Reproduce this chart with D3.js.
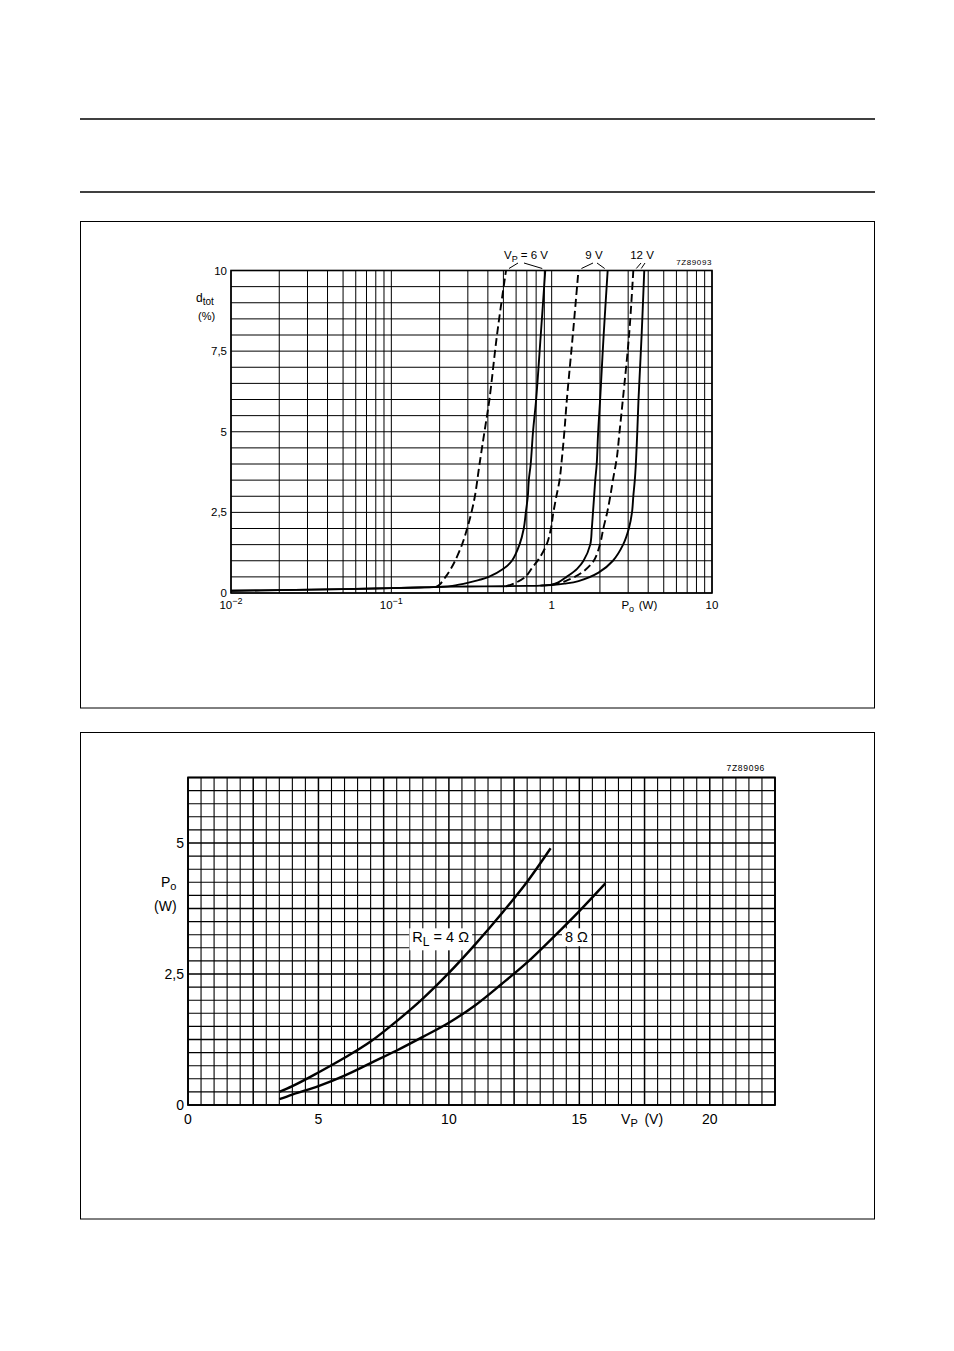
<!DOCTYPE html>
<html><head><meta charset="utf-8">
<script src="https://cdn.jsdelivr.net/npm/d3@7"></script>
<style>
body{margin:0;background:#fff}
svg{display:block}
text{font-family:"Liberation Sans",Arial,Helvetica,sans-serif;fill:#000}
</style>
</head><body>
<svg id="c" width="954" height="1351"></svg>
<script>
// ---------------- DATA ----------------
// Chart 1: total distortion d_tot (%) vs output power Po (W), log x
const distYTicks = [0, 2.5, 5, 7.5, 10];
const distYTickLabels = ["0", "2,5", "5", "7,5", "10"];
const distXTicks = [0.01, 0.1, 1, 10];
const distXTickBase = ["10", "10", "1", "10"];
const distXTickExp = ["\u22122", "\u22121", "", ""];
const vpLabels = ["6 V", "9 V", "12 V"];

// [Po (W), dtot (%)]
const vp6Dashed = [[0.19,0.19],[0.2,0.26],[0.218,0.5],[0.235,0.75],[0.25,1.0],[0.276,1.5],[0.297,2.0],[0.316,2.5],[0.332,3.0],[0.355,4.0],[0.381,5.0],[0.409,6.0],[0.456,8.0],[0.519,10]];
const vp6Solid = [[0.01,0.07],[0.02,0.09],[0.05,0.12],[0.1,0.15],[0.15,0.17],[0.2,0.19],[0.24,0.22],[0.303,0.32],[0.35,0.4],[0.405,0.5],[0.5,0.75],[0.565,1.0],[0.63,1.5],[0.67,2.0],[0.69,2.5],[0.71,3.0],[0.72,3.5],[0.74,4.0],[0.765,5.0],[0.80,6.0],[0.855,8.0],[0.912,10]];
const vp9Dashed = [[0.52,0.21],[0.58,0.29],[0.685,0.5],[0.76,0.8],[0.83,1.05],[0.93,1.5],[0.99,2.0],[1.025,2.5],[1.07,3.0],[1.12,3.5],[1.16,4.2],[1.2,5.0],[1.244,6.0],[1.355,8.0],[1.469,10]];
const vp9Solid = [[0.01,0.07],[0.02,0.09],[0.05,0.12],[0.1,0.15],[0.2,0.19],[0.3,0.2],[0.5,0.21],[0.7,0.22],[0.85,0.23],[1.0,0.26],[1.1,0.33],[1.24,0.5],[1.44,0.75],[1.58,1.0],[1.74,1.5],[1.78,2.0],[1.81,2.5],[1.84,3.0],[1.87,3.5],[1.91,4.0],[1.95,5.0],[2.006,6.0],[2.11,8.0],[2.235,10]];
const vp12Dashed = [[1.0,0.25],[1.22,0.37],[1.54,0.63],[1.83,1.0],[2.0,1.5],[2.1,2.0],[2.22,2.5],[2.32,3.0],[2.41,3.5],[2.55,4.2],[2.65,5.0],[2.78,6.0],[3.04,8.0],[3.23,10]];
const vp12Solid = [[0.85,0.23],[1.0,0.25],[1.2,0.29],[1.47,0.37],[1.96,0.63],[2.41,1.0],[2.79,1.5],[3.03,2.0],[3.17,2.5],[3.23,3.0],[3.3,3.5],[3.35,4.0],[3.42,5.0],[3.48,6.0],[3.64,8.0],[3.78,10]];

// Chart 2: output power Po (W) vs supply voltage Vp (V)
const powXTicks = [0, 5, 10, 15, 20];
const powXTickLabels = ["0", "5", "10", "15", "20"];
const powYTicks = [0, 2.5, 5];
const powYTickLabels = ["0", "2,5", "5"];
// [Vp (V), Po (W)]
const rl4 = [[3.5,0.25],[4,0.36],[5,0.62],[6,0.9],[7,1.21],[8,1.6],[9,2.03],[10,2.52],[11,3.06],[12,3.64],[13,4.26],[13.9,4.9]];
const rl8 = [[3.5,0.11],[4,0.2],[5,0.36],[6,0.56],[7,0.8],[8,1.04],[9,1.3],[10,1.57],[11,1.9],[12,2.3],[13,2.72],[14,3.2],[15,3.7],[16,4.23]];

// ---------------- DRAW ----------------
const svg = d3.select("#c");

// page rules
[119, 192].forEach(y => svg.append("line").attr("x1", 80).attr("x2", 875).attr("y1", y).attr("y2", y)
  .attr("stroke", "#000").attr("stroke-width", 1.6));
// figure boxes
svg.append("rect").attr("x", 80.5).attr("y", 221.5).attr("width", 794).attr("height", 486.5)
  .attr("fill", "none").attr("stroke", "#000").attr("stroke-width", 1);
svg.append("rect").attr("x", 80.5).attr("y", 732.5).attr("width", 794).attr("height", 486.5)
  .attr("fill", "none").attr("stroke", "#000").attr("stroke-width", 1);

// ===== Chart 1 =====
const x1 = d3.scaleLog().domain([0.01, 10]).range([231, 712]);
const y1 = d3.scaleLinear().domain([0, 10]).range([593, 270.5]);
const g1 = svg.append("g");

const vGrid1 = [];
[0.01, 0.1, 1].forEach(dec => { for (let m = 1; m <= 9; m++) vGrid1.push(dec * m); });
vGrid1.push(10);
g1.selectAll(".vg").data(vGrid1).join("line")
  .attr("x1", d => x1(d)).attr("x2", d => x1(d)).attr("y1", y1(0)).attr("y2", y1(10))
  .attr("stroke", "#000").attr("stroke-width", 1);
g1.selectAll(".hg").data(d3.range(0, 10.001, 0.5)).join("line")
  .attr("x1", x1(0.01)).attr("x2", x1(10)).attr("y1", d => y1(d)).attr("y2", d => y1(d))
  .attr("stroke", "#000").attr("stroke-width", 1);
g1.append("rect").attr("x", x1(0.01)).attr("y", y1(10)).attr("width", x1(10) - x1(0.01)).attr("height", y1(0) - y1(10))
  .attr("fill", "none").attr("stroke", "#000").attr("stroke-width", 1.6);

const line1 = d3.line().x(d => x1(d[0])).y(d => y1(d[1])).curve(d3.curveCatmullRom.alpha(0.5));
const curves1 = [
  {d: vp6Solid, dash: false}, {d: vp9Solid, dash: false}, {d: vp12Solid, dash: false},
  {d: vp6Dashed, dash: true}, {d: vp9Dashed, dash: true}, {d: vp12Dashed, dash: true}
];
curves1.forEach(c => {
  g1.append("path").attr("d", line1(c.d)).attr("fill", "none").attr("stroke", "#000")
    .attr("stroke-width", 1.9).attr("stroke-dasharray", c.dash ? "8,4" : null);
});

// y tick labels
g1.selectAll(".yl").data(distYTicks).join("text")
  .attr("x", 227).attr("y", d => y1(d)).attr("dy", "0.35em").attr("text-anchor", "end")
  .attr("font-size", 11.5).text((d, i) => distYTickLabels[i]);
// y title
const dt = g1.append("text").attr("x", 196).attr("y", 302).attr("font-size", 12);
dt.append("tspan").text("d");
dt.append("tspan").attr("dy", 3).attr("font-size", 10).text("tot");
g1.append("text").attr("x", 198).attr("y", 320).attr("font-size", 11).text("(%)");

// x tick labels
distXTicks.forEach((v, i) => {
  const t = g1.append("text").attr("x", x1(v)).attr("y", 609).attr("text-anchor", "middle").attr("font-size", 11.5);
  t.append("tspan").text(distXTickBase[i]);
  if (distXTickExp[i]) t.append("tspan").attr("dy", -5).attr("font-size", 9).text(distXTickExp[i]);
});
const pt = g1.append("text").attr("x", x1(3.9) - 25).attr("y", 609).attr("font-size", 11.5);
pt.append("tspan").text("P");
pt.append("tspan").attr("dy", 3).attr("font-size", 9).text("o");
pt.append("tspan").attr("dy", -3).text("\u2009\u2009(W)");

// curve labels with leaders
const pairs = [[vp6Dashed, vp6Solid], [vp9Dashed, vp9Solid], [vp12Dashed, vp12Solid]];
const labelCx = [526, 594, 642];
pairs.forEach((p, i) => {
  const t = g1.append("text").attr("x", labelCx[i]).attr("y", 259).attr("text-anchor", "middle").attr("font-size", 11.5);
  if (i === 0) {
    t.append("tspan").text("V");
    t.append("tspan").attr("dy", 3).attr("font-size", 9).text("P");
    t.append("tspan").attr("dy", -3).text(" = " + vpLabels[i]);
  } else {
    t.append("tspan").text(vpLabels[i]);
  }
  const topD = p[0][p[0].length - 1], topS = p[1][p[1].length - 1];
  const sx = i === 0 ? labelCx[i] - 8 : labelCx[i] - 1;
  const sx2 = i === 0 ? labelCx[i] - 2 : labelCx[i] + 3;
  const sy = 263;
  g1.append("line").attr("x1", sx).attr("y1", sy).attr("x2", x1(topD[0]) + 3).attr("y2", y1(10) - 2)
    .attr("stroke", "#000").attr("stroke-width", 1);
  g1.append("line").attr("x1", sx2).attr("y1", sy).attr("x2", x1(topS[0]) - 3).attr("y2", y1(10) - 2)
    .attr("stroke", "#000").attr("stroke-width", 1);
});
g1.append("text").attr("x", 712).attr("y", 264.5).attr("text-anchor", "end").attr("font-size", 8)
  .attr("letter-spacing", 0.6).text("7Z89093");

// ===== Chart 2 =====
const x2 = d3.scaleLinear().domain([0, 22.5]).range([188, 775]);
const y2 = d3.scaleLinear().domain([0, 6.25]).range([1105, 777.5]);
const g2 = svg.append("g");

g2.selectAll(".vg2").data(d3.range(0, 45.5, 1)).join("line")
  .attr("x1", d => x2(d * 0.5)).attr("x2", d => x2(d * 0.5)).attr("y1", y2(0)).attr("y2", y2(6.25))
  .attr("stroke", "#000").attr("stroke-width", d => d % 5 === 0 ? 1.5 : 1.1);
g2.selectAll(".hg2").data(d3.range(0, 25.5, 1)).join("line")
  .attr("x1", x2(0)).attr("x2", x2(22.5)).attr("y1", d => y2(d * 0.25)).attr("y2", d => y2(d * 0.25))
  .attr("stroke", "#000").attr("stroke-width", d => d % 5 === 0 ? 1.5 : 1.1);
g2.append("rect").attr("x", x2(0)).attr("y", y2(6.25)).attr("width", x2(22.5) - x2(0)).attr("height", y2(0) - y2(6.25))
  .attr("fill", "none").attr("stroke", "#000").attr("stroke-width", 1.8);

// layer for label knock-outs (under curves), then curves, then label text
const knockLayer = g2.append("g");
const curveLayer = g2.append("g");
const labelLayer = g2.append("g");

const line2 = d3.line().x(d => x2(d[0])).y(d => y2(d[1])).curve(d3.curveMonotoneX);
[rl4, rl8].forEach(d => curveLayer.append("path").attr("d", line2(d)).attr("fill", "none")
  .attr("stroke", "#000").attr("stroke-width", 2.4));

function knockLabel(x, y, build) {
  const t = labelLayer.append("text").attr("x", x).attr("y", y).attr("font-size", 14.5);
  build(t);
  const bb = t.node().getBBox();
  knockLayer.append("rect").attr("x", bb.x - 3).attr("y", bb.y - 1).attr("width", bb.width + 6)
    .attr("height", bb.height + 2).attr("fill", "#fff");
}
knockLabel(x2(8.6), y2(3.2) + 5, t => {
  t.append("tspan").text("R");
  t.append("tspan").attr("dy", 4).attr("font-size", 12).text("L");
  t.append("tspan").attr("dy", -4).text(" = 4 \u03A9");
});
knockLabel(x2(14.45), y2(3.2) + 5, t => t.append("tspan").text("8 \u03A9"));

// tick labels
g2.selectAll(".xl2").data(powXTicks).join("text")
  .attr("x", d => x2(d)).attr("y", 1124).attr("text-anchor", "middle").attr("font-size", 14)
  .text((d, i) => powXTickLabels[i]);
g2.selectAll(".yl2").data(powYTicks).join("text")
  .attr("x", 184).attr("y", d => y2(d)).attr("dy", "0.35em").attr("text-anchor", "end").attr("font-size", 14)
  .text((d, i) => powYTickLabels[i]);
const vt = g2.append("text").attr("x", x2(16.6)).attr("y", 1124).attr("font-size", 14);
vt.append("tspan").text("V");
vt.append("tspan").attr("dy", 3).attr("font-size", 11).text("P");
vt.append("tspan").attr("dy", -3).text("\u2009 (V)");
const pot = g2.append("text").attr("x", 161).attr("y", 887).attr("font-size", 14);
pot.append("tspan").text("P");
pot.append("tspan").attr("dy", 3).attr("font-size", 11).text("o");
g2.append("text").attr("x", 154).attr("y", 911).attr("font-size", 14).text("(W)");
g2.append("text").attr("x", 765).attr("y", 771).attr("text-anchor", "end").attr("font-size", 8.5)
  .attr("letter-spacing", 0.7).text("7Z89096");
</script>
</body></html>
